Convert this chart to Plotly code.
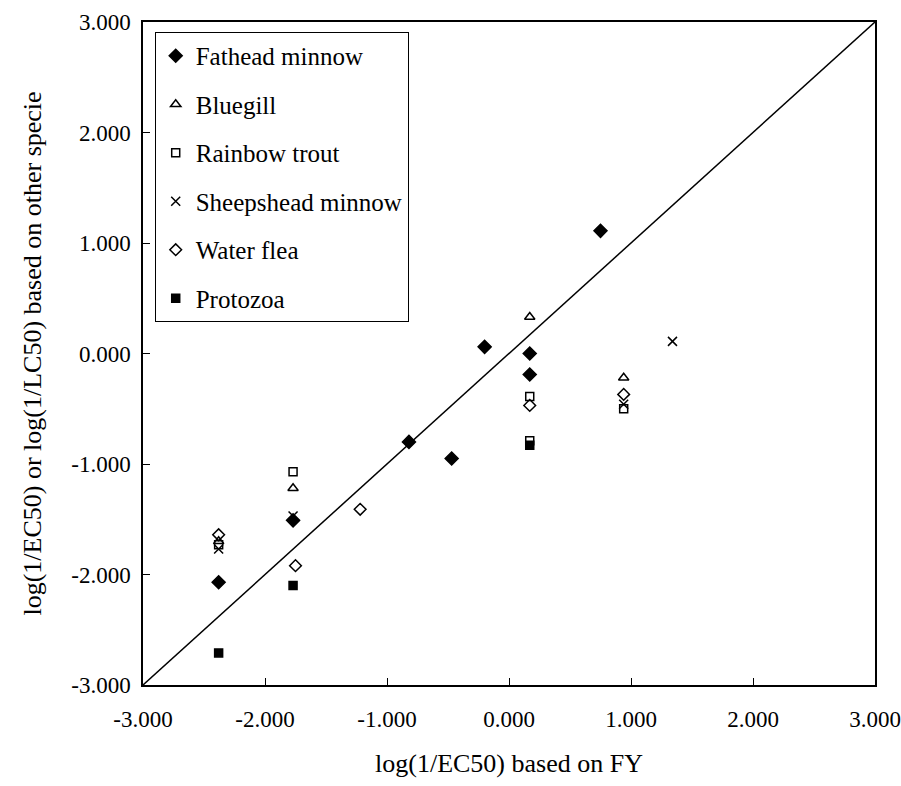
import plotly.graph_objects as go

fathead_x = [0.75, -0.20, 0.17, 0.17, -0.82, -0.47, -2.38, -1.77]
fathead_y = [1.11, 0.06, 0.00, -0.19, -0.80, -0.95, -2.07, -1.51]
bluegill_x = [0.17, 0.94, -1.77, -2.38]
bluegill_y = [0.33, -0.22, -1.22, -1.70]
trout_x = [0.17, 0.17, 0.94, -1.77, -2.38]
trout_y = [-0.39, -0.79, -0.50, -1.07, -1.73]
sheeps_x = [1.34, 0.94, -1.77, -2.38]
sheeps_y = [0.11, -0.46, -1.47, -1.77]
flea_x = [0.17, 0.94, -1.22, -1.75, -2.38]
flea_y = [-0.47, -0.37, -1.41, -1.92, -1.64]
proto_x = [0.17, -1.77, -2.38]
proto_y = [-0.83, -2.10, -2.71]

line_x = [-3, 3]
line_y = [-3, 3]

tick_vals = [-3, -2, -1, 0, 1, 2, 3]
tick_text = ["-3.000", "-2.000", "-1.000", "0.000", "1.000", "2.000", "3.000"]

font = "Liberation Serif, Times New Roman, serif"

fig = go.Figure()
fig.add_trace(go.Scatter(x=line_x, y=line_y, mode="lines",
                         line=dict(color="black", width=1.5),
                         showlegend=False, hoverinfo="skip"))

series = [
    ("Fathead minnow", fathead_x, fathead_y, "diamond", 10, "black"),
    ("Bluegill", bluegill_x, bluegill_y, "triangle-up-open", 9, "black"),
    ("Rainbow trout", trout_x, trout_y, "square-open", 8, "black"),
    ("Sheepshead minnow", sheeps_x, sheeps_y, "x-thin-open", 9, "black"),
    ("Water flea", flea_x, flea_y, "diamond-open", 9, "black"),
    ("Protozoa", proto_x, proto_y, "square", 8, "black"),
]
for i, (name, xs, ys, sym, sz, lc) in enumerate(series):
    fig.add_trace(go.Scatter(
        x=xs, y=ys, mode="markers", name=name, legendgroup=f"g{i}",
        marker=dict(symbol=sym, size=sz, color=lc,
                    line=dict(color=lc, width=1.5)),
    ))

tf = dict(family=font, size=23, color="black")
fig.update_layout(
    width=901, height=786,
    margin=dict(l=143, r=26, t=22, b=101, autoexpand=False),
    paper_bgcolor="white", plot_bgcolor="white",
    font=dict(family=font, size=26, color="black"),
    legend=dict(x=0.016, y=0.985, xanchor="left", yanchor="top",
                bgcolor="white", bordercolor="black", borderwidth=1,
                font=dict(family=font, size=25, color="black"),
                tracegroupgap=13, traceorder="grouped",
                itemwidth=30),
)
for ax, title, lso, tso in [(fig.update_xaxes, "log(1/EC50) based on FY", 13, 22),
                            (fig.update_yaxes, "log(1/EC50) or log(1/LC50) based on other specie", 6, 22)]:
    ax(range=[-3, 3], tickmode="array", tickvals=tick_vals, ticktext=tick_text,
       ticks="inside", ticklen=7, tickwidth=1, tickcolor="black",
       showline=True, linecolor="black", linewidth=1.5, mirror=True,
       showgrid=False, zeroline=False, tickfont=tf, ticklabelstandoff=lso,
       ticklabeloverflow="allow", automargin=False,
       title_text=title, title_font=dict(family=font, size=26, color="black"),
       title_standoff=tso)
fig.write_html("out.html")
